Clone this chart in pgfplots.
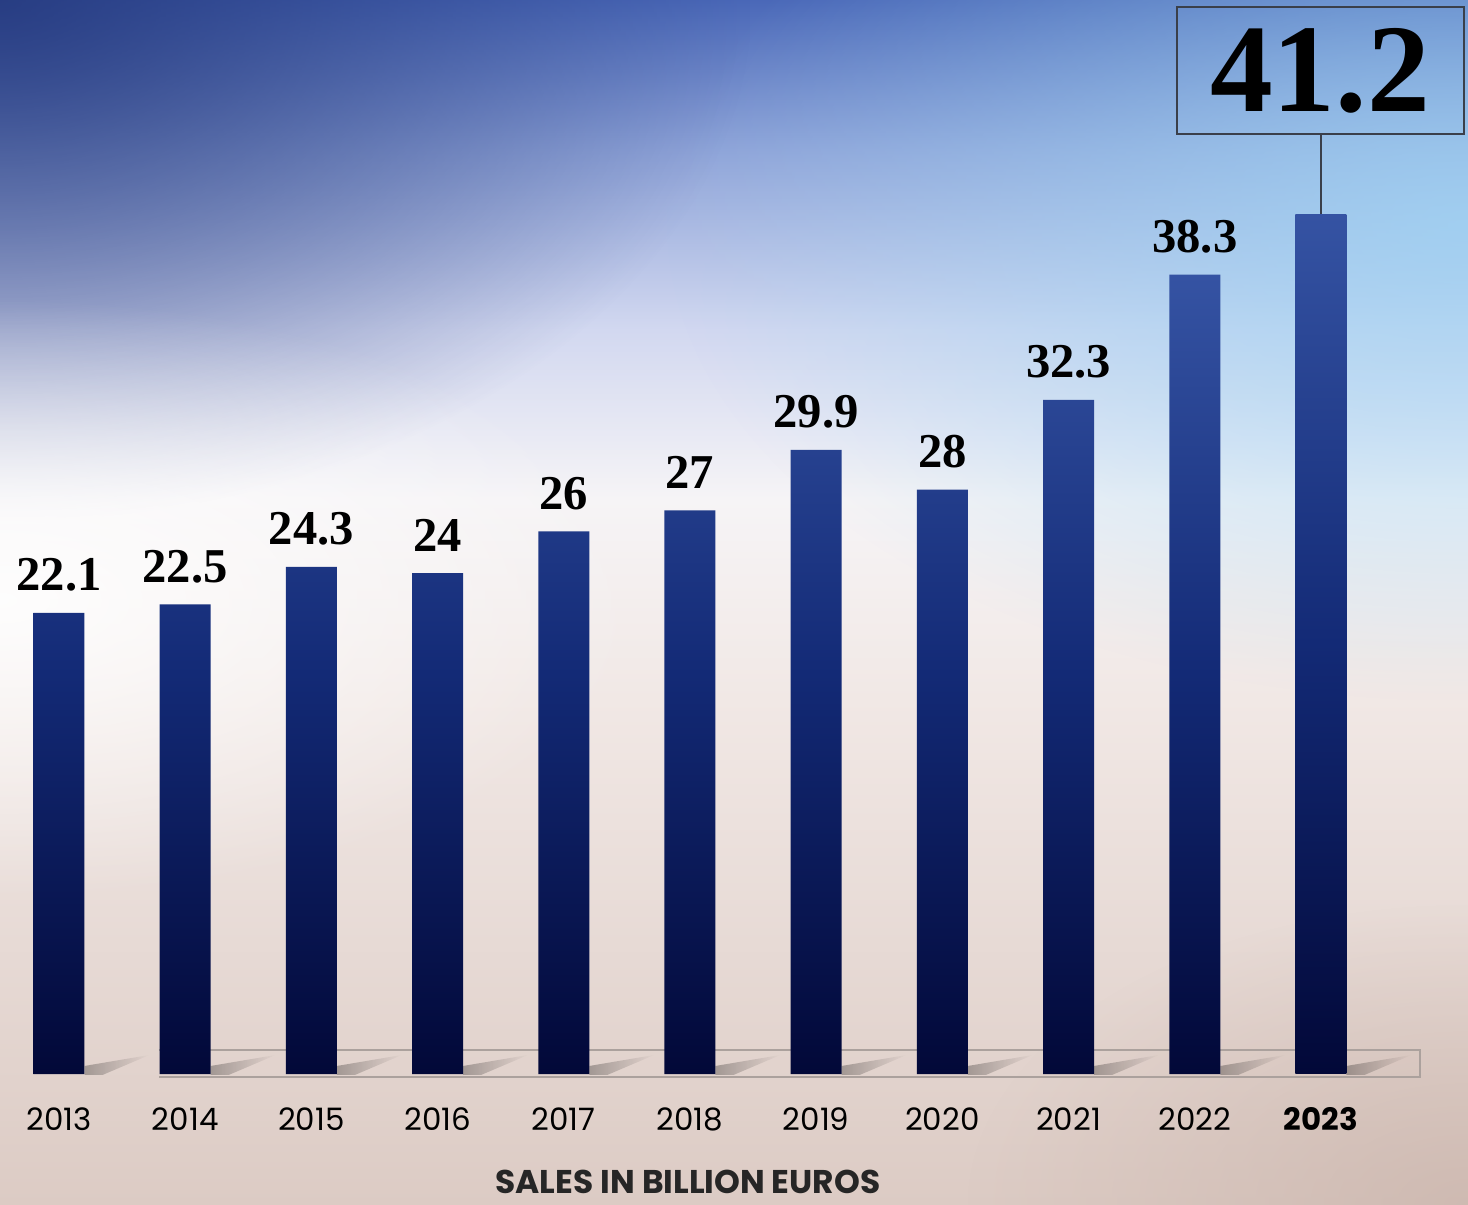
\documentclass[border=0pt]{standalone}
\usepackage{fontspec}
\setmainfont{Liberation Serif}
\newfontfamily\pop{Poppins}
\usepackage{pgfplots}
\pgfplotsset{compat=1.18}
\usetikzlibrary{fadings}

\definecolor{bgA}{HTML}{4A68B8}
\definecolor{bgB}{HTML}{8EA3D8}
\definecolor{bgC}{HTML}{D2D8F0}
\definecolor{bgD}{HTML}{F6F4F6}
\definecolor{bgE}{HTML}{F1E8E5}
\definecolor{bgF}{HTML}{DCCBC4}
\definecolor{bgTL}{HTML}{22367A}
\definecolor{bgTR}{HTML}{9FD4F4}
\definecolor{bgBR}{HTML}{C9B3AA}
\definecolor{barTop}{HTML}{3553A3}
\definecolor{barMid}{HTML}{132A76}
\definecolor{barBot}{HTML}{020838}
\definecolor{boxGray}{HTML}{3A3F4A}
\definecolor{frameGray}{HTML}{ABA19D}

\tikzfading[name=radfade, inner color=transparent!0, outer color=transparent!100]
\tikzfading[name=eastfade, left color=transparent!0, right color=transparent!100]

\pgfdeclareverticalshading{bgshade}{100bp}{%
 color(0bp)=(bgF); color(25bp)=(bgF); color(46bp)=(bgE); color(54.3bp)=(bgD);
 color(61.3bp)=(bgC); color(68.8bp)=(bgB); color(75bp)=(bgA); color(100bp)=(bgA)}

\begin{document}
\begin{tikzpicture}
\clip (0bp,0bp) rectangle (734bp,602.5bp);
\begin{scope}[x=0.5bp,y=-0.5bp,yshift=602.5bp]
 \shade[shading=bgshade] (0,0) rectangle (1468,1205);
 \fill[bgTL, path fading=radfade, fill opacity=0.85] (-750,-520) rectangle (750,520);
 \fill[bgTR, path fading=radfade, fill opacity=0.8] (668,-250) rectangle (2268,700);
 \fill[white, path fading=radfade, fill opacity=0.9] (-650,300) rectangle (650,900);
 \fill[bgBR, path fading=radfade, fill opacity=0.7] (968,905) rectangle (1968,1505);
 % frame lines at the base
 \draw[frameGray, line width=0.55bp] (159,1050) -- (1420,1050) -- (1420,1077) -- (159,1077);
 % bar shadows
 \foreach \i in {0,...,10}{
   \pgfmathsetmacro{\xr}{84.5+126.2*\i}
   \fill[black, fill opacity=0.28, path fading=eastfade]
     (\xr,1075) -- (\xr,1066) -- (\xr+65,1055) -- (\xr+18,1075) -- cycle;
 }
\end{scope}

\begin{axis}[
  at={(0bp,65.5bp)}, anchor=south west,
  scale only axis, width=734bp, height=537bp,
  xmin=-0.4675, xmax=11.165, ymin=0, ymax=51.46,
  axis line style={draw=none},
  major tick length=0pt,
  ytick=\empty,
  xtick={0,...,10},
  xticklabels={2013,2014,2015,2016,2017,2018,2019,2020,2021,2022,\textbf{2023}},
  xticklabel style={font=\pop\fontsize{15.5}{18}\selectfont, anchor=base, yshift=-28bp, text=black},
  xlabel={\bfseries SALES IN BILLION EUROS},
  xlabel style={at={(axis cs:4.984,0)}, anchor=base, yshift=-59.5bp, font=\pop\fontsize{16.5}{19}\selectfont, text=black!85},
  /pgf/number format/assume math mode=true,
  clip=false,
  ybar, bar width=25.5bp,
]
\addplot[ybar, bar shift=0pt, draw=none, top color=barTop, bottom color=barBot, middle color=barMid,
  nodes near coords,
  nodes near coords style={anchor=base, yshift=11bp, font=\bfseries\fontsize{24.4}{26}\selectfont, text=black}]
  coordinates {(0,22.1) (1,22.5) (2,24.3) (3,24) (4,26) (5,27) (6,29.9) (7,28) (8,32.3) (9,38.3)};
\addplot[ybar, bar shift=0pt, draw=none, top color=barTop, bottom color=barBot, middle color=barMid]
  coordinates {(10,41.2)};
\draw[boxGray, line width=0.8bp] (axis cs:10,41.2) -- (axis cs:10,45.04);
\draw[boxGray, line width=0.8bp] (axis cs:8.859,45.04) rectangle (axis cs:11.133,51.13);
\node[anchor=base, font=\bfseries\fontsize{63}{66}\selectfont, inner sep=0pt] at (axis cs:9.992,46.1) {41.2};
\end{axis}
\end{tikzpicture}
\end{document}
